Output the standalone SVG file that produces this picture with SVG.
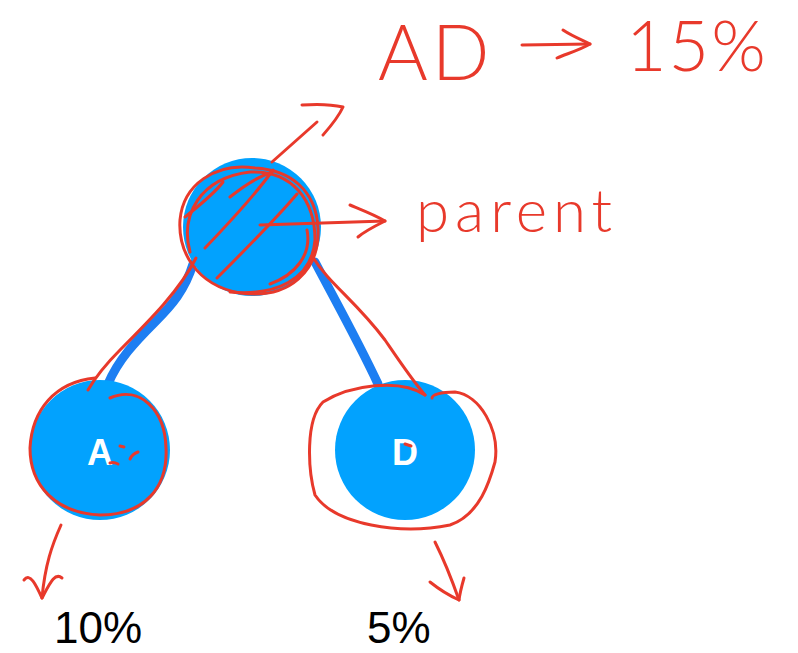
<svg xmlns="http://www.w3.org/2000/svg" width="798" height="653" viewBox="0 0 798 653">
<style>
.node{fill:#02a2fe}
.lbl{font-family:"Liberation Sans",Arial,sans-serif;font-weight:bold;font-size:36px;fill:#ffffff;text-anchor:middle}
.edge{fill:none;stroke:#1d7ef2;stroke-width:9;stroke-linecap:round;stroke-linejoin:round}
.ink{fill:none;stroke:#e8392b;stroke-width:3;stroke-linecap:round;stroke-linejoin:round}
.hand{font-family:Lato,"Liberation Sans",sans-serif;font-weight:300;fill:#e8392b}
.pct{font-family:"Liberation Sans",Arial,sans-serif;font-size:44px;fill:#000000}
</style>
<rect width="798" height="653" fill="#ffffff"/>
<g id="connectors">
<path class="edge" d="M193,264 C185,290 172,305 155,322 C135,342 118,360 108,384"/>
<path class="edge" d="M315,262 C335,300 360,345 378,384"/>
</g>
<g id="node-parent">
<circle class="node" cx="252" cy="227" r="69"/>
</g>
<g id="node-A">
<circle class="node" cx="100" cy="450" r="70"/>
<text class="lbl" x="100" y="465">A</text>
</g>
<g id="node-D">
<circle class="node" cx="405" cy="450" r="70"/>
<text class="lbl" x="405" y="465">D</text>
</g>
<g id="annotations">
<path class="ink" d="M255,168 C215,162 183,185 180,220 C178,250 195,285 240,293 C290,300 320,270 318,228 C316,190 290,170 255,168 Z"/>
<path class="ink" d="M190,252 C180,215 200,178 250,172 C292,170 315,200 315,240 C312,280 275,296 230,292"/>
<path class="ink" d="M185,217 C200,205 215,193 223,182"/>
<path class="ink" d="M230,197 C245,185 260,176 272,172"/>
<path class="ink" d="M205,248 C230,222 255,195 273,170"/>
<path class="ink" d="M217,278 C245,250 275,220 297,194"/>
<path class="ink" d="M307,230 C312,255 295,275 270,284"/>
<path class="ink" d="M272,162 L317,122"/>
<path class="ink" d="M302,105 C315,104 330,104 343,107 C338,118 330,127 323,135"/>
<path class="ink" d="M260,225 L385,221"/>
<path class="ink" d="M350,205 C362,210 375,215 385,221 C375,226 365,231 358,237"/>
<path class="ink" d="M196,258 C180,290 150,320 120,350 C105,365 95,378 88,390"/>
<path class="ink" d="M312,256 C330,285 355,300 385,340 C400,362 412,380 425,395"/>
<path class="ink" d="M95,378 C55,382 32,410 30,448 C30,485 55,513 100,515 C145,515 168,487 166,448 C165,410 140,385 110,398"/>
<path class="ink" d="M120,446 L124,447"/>
<path class="ink" d="M130,459 C132,455 135,453 138,452"/>
<path class="ink" d="M110,463 C113,462 116,463 118,464"/>
<path class="ink" d="M425,395 C400,378 350,385 323,402 C305,420 308,470 315,495 C335,525 400,535 450,525 C480,515 490,480 495,462 C500,430 480,395 455,392 C440,392 432,395 432,398"/>
<path class="ink" d="M405,444 L411,446"/>
<path class="ink" d="M61,525 C52,545 45,565 42,598"/>
<path class="ink" d="M24,580 C30,572 36,585 42,598 C50,583 55,572 62,578"/>
<path class="ink" d="M435,542 C445,562 452,580 459,600"/>
<path class="ink" d="M430,582 C440,590 448,595 459,600 C460,592 462,585 464,578"/>
<text class="hand" x="378" y="80" font-size="76" letter-spacing="4">AD</text>
<path class="ink" d="M522,45 L590,44"/>
<path class="ink" d="M563,30 C572,36 582,40 590,44 C580,50 566,54 557,58"/>
<text class="hand" x="626" y="71" font-size="70" letter-spacing="2">15%</text>
<text class="hand" x="416" y="232" font-size="60" letter-spacing="6">parent</text>
</g>
<text class="pct" x="54" y="643">10%</text>
<text class="pct" x="367" y="643">5%</text>
</svg>
